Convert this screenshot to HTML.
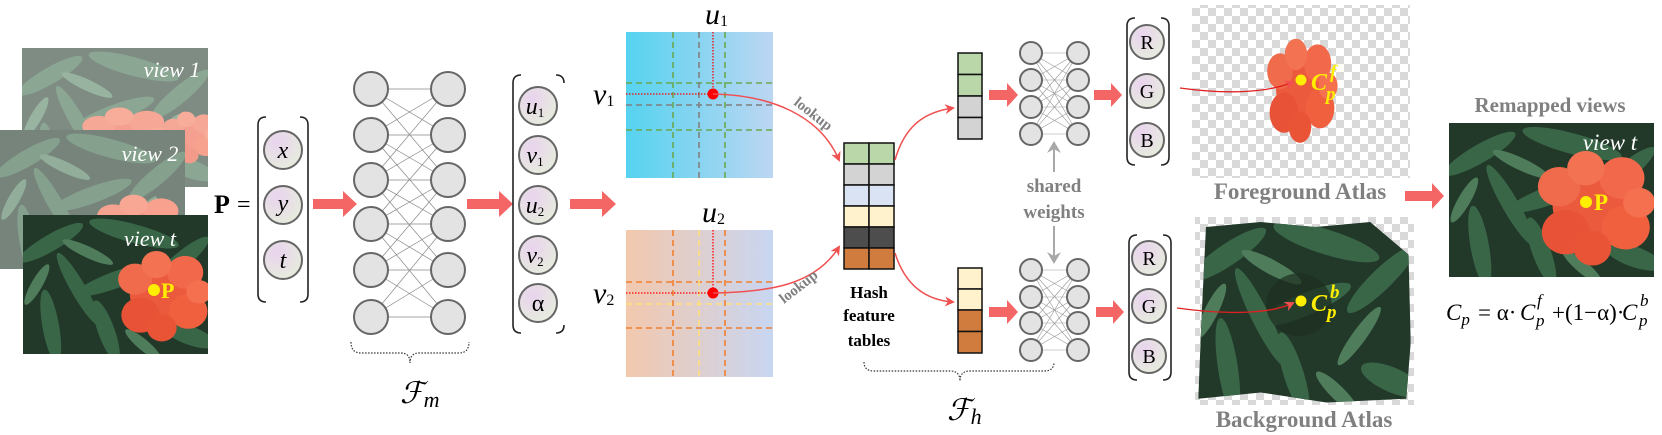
<!DOCTYPE html>
<html><head><meta charset="utf-8">
<style>
html,body{margin:0;padding:0;background:#fff;}
svg{display:block;}
text{font-family:"Liberation Serif",serif;}
.it{font-style:italic;}
.gl{fill:#808080;font-weight:bold;}
</style></head>
<body>
<svg width="1662" height="435" viewBox="0 0 1662 435" xmlns="http://www.w3.org/2000/svg">
<defs>
  <pattern id="chk" width="16" height="16" patternUnits="userSpaceOnUse">
    <rect width="16" height="16" fill="#ffffff"/>
    <rect width="8" height="8" fill="#d9d9d9"/>
    <rect x="8" y="8" width="8" height="8" fill="#d9d9d9"/>
  </pattern>
  <radialGradient id="cg" cx="0.35" cy="0.3" r="0.8">
    <stop offset="0" stop-color="#e9d3ee"/><stop offset="1" stop-color="#e6eedc"/>
  </radialGradient>
  <linearGradient id="g1" x1="0" x2="1"><stop offset="0" stop-color="#55d3f0"/><stop offset="1" stop-color="#bcd6f2"/></linearGradient>
  <linearGradient id="g2" x1="0" x2="1"><stop offset="0" stop-color="#f3c8ad"/><stop offset="1" stop-color="#c8d6f2"/></linearGradient>
  <marker id="ah" markerWidth="10" markerHeight="10" refX="8" refY="5" orient="auto" markerUnits="userSpaceOnUse">
    <path d="M0,0 L10,5 L0,10 L3,5 z" fill="#f05050"/>
  </marker>
  <marker id="ahg" markerWidth="12" markerHeight="14" refX="10" refY="7" orient="auto" markerUnits="userSpaceOnUse">
    <path d="M0,0 L12,7 L0,14 L4,7 z" fill="#a8a8a8"/>
  </marker>
  <g id="fol">
    <rect width="200" height="150" fill="#22392a"/>
    <g fill="#3a6648">
      <ellipse cx="30" cy="30" rx="40" ry="9" transform="rotate(-30 30 30)"/>
      <ellipse cx="120" cy="20" rx="50" ry="10" transform="rotate(15 120 20)"/>
      <ellipse cx="170" cy="50" rx="40" ry="9" transform="rotate(-40 170 50)"/>
      <ellipse cx="60" cy="80" rx="45" ry="8" transform="rotate(60 60 80)"/>
      <ellipse cx="100" cy="70" rx="45" ry="9" transform="rotate(-20 100 70)"/>
      <ellipse cx="30" cy="120" rx="40" ry="9" transform="rotate(80 30 120)"/>
      <ellipse cx="90" cy="125" rx="35" ry="9" transform="rotate(70 90 125)"/>
      <ellipse cx="180" cy="130" rx="30" ry="10" transform="rotate(20 180 130)"/>
    </g>
    <g fill="#4f7d5c">
      <ellipse cx="70" cy="40" rx="30" ry="6" transform="rotate(25 70 40)"/>
      <ellipse cx="150" cy="95" rx="30" ry="6" transform="rotate(-50 150 95)"/>
      <ellipse cx="15" cy="75" rx="25" ry="6" transform="rotate(-60 15 75)"/>
      <ellipse cx="130" cy="140" rx="25" ry="6" transform="rotate(40 130 140)"/>
    </g>
  </g>
  <g id="flw">
    <circle cx="0" cy="0" r="30" fill="#ec5a3e"/>
    <circle cx="-25" cy="-15" r="16" fill="#f06a4c"/>
    <circle cx="22" cy="-22" r="17" fill="#f2684a"/>
    <circle cx="-20" cy="22" r="18" fill="#e85236"/>
    <circle cx="25" cy="18" r="18" fill="#f0603f"/>
    <circle cx="0" cy="35" r="14" fill="#e95436"/>
    <circle cx="35" cy="-2" r="12" fill="#f4704f"/>
    <circle cx="-5" cy="-30" r="14" fill="#f27252"/>
  </g>
</defs>

<!-- views -->
<g>
  <svg x="22" y="48" width="186" height="139" viewBox="0 0 200 150" preserveAspectRatio="none"><use href="#fol"/><use href="#flw" transform="translate(110,95) scale(1.1,0.7)"/><use href="#flw" transform="translate(180,95) scale(0.7,0.6)"/></svg>
  <rect x="22" y="48" width="186" height="139" fill="#fff" opacity="0.42"/>
  <svg x="0" y="130" width="185" height="139" viewBox="0 0 200 150" preserveAspectRatio="none"><use href="#fol"/><use href="#flw" transform="translate(150,105) scale(1.1,0.8)"/></svg>
  <rect x="0" y="130" width="185" height="139" fill="#fff" opacity="0.38"/>
  <svg x="23" y="215" width="185" height="139" viewBox="0 0 200 150" preserveAspectRatio="none"><use href="#fol"/><use href="#flw" transform="translate(150,85) scale(1.15,1.05)"/></svg>
  <text x="172" y="77" font-size="22" class="it" fill="#fff" text-anchor="middle">view 1</text>
  <text x="150" y="161" font-size="22" class="it" fill="#fff" text-anchor="middle">view 2</text>
  <text x="150" y="246" font-size="22" class="it" fill="#fff" text-anchor="middle">view t</text>
  <circle cx="154" cy="290" r="6" fill="#ffee00"/>
  <text x="161" y="298" font-size="22" font-weight="bold" fill="#ffee00">P</text>
</g>

<!-- P = -->
<text x="214" y="213" font-size="26" font-weight="bold">P</text>
<text x="237" y="212" font-size="24">=</text>
<path d="M266,117 q-8,0 -8,8 v169 q0,8 8,8" fill="none" stroke="#222" stroke-width="1.6"/>
<path d="M300,117 q8,0 8,8 v169 q0,8 -8,8" fill="none" stroke="#222" stroke-width="1.6"/>
<g stroke="#666" stroke-width="2" fill="url(#cg)">
  <circle cx="283" cy="150" r="19"/><circle cx="283" cy="205" r="19"/><circle cx="283" cy="260" r="19"/>
</g>
<text x="283" y="158" font-size="24" class="it" text-anchor="middle">x</text>
<text x="283" y="211" font-size="24" class="it" text-anchor="middle">y</text>
<text x="283" y="268" font-size="24" class="it" text-anchor="middle">t</text>

<!-- thick arrows -->
<g fill="#f46565">
  <path d="M313,199 h30 v-8 l14,13 l-14,13 v-8 h-30 z"/>
  <path d="M467,199 h32 v-8 l14,13 l-14,13 v-8 h-32 z"/>
  <path d="M570,199 h32 v-8 l14,13 l-14,13 v-8 h-32 z"/>
  <path d="M989,90 h18 v-7 l11,12 l-11,12 v-7 h-18 z"/>
  <path d="M989,307 h18 v-7 l11,12 l-11,12 v-7 h-18 z"/>
  <path d="M1094,90 h17 v-7 l11,12 l-11,12 v-7 h-17 z"/>
  <path d="M1096,307 h17 v-7 l11,12 l-11,12 v-7 h-17 z"/>
  <path d="M1405,191 h27 v-8 l12,13 l-12,13 v-8 h-27 z"/>
</g>

<!-- NN Fm -->
<g stroke="#888" stroke-width="0.7">
  <path d="M371,89 L448,89 M371,89 L448,135 M371,89 L448,180 M371,135 L448,89 M371,135 L448,135 M371,135 L448,180 M371,135 L448,224 M371,180 L448,89 M371,180 L448,135 M371,180 L448,180 M371,180 L448,224 M371,180 L448,270 M371,224 L448,135 M371,224 L448,180 M371,224 L448,224 M371,224 L448,270 M371,224 L448,317 M371,270 L448,180 M371,270 L448,224 M371,270 L448,270 M371,270 L448,317 M371,317 L448,224 M371,317 L448,270 M371,317 L448,317"/>
</g>
<g stroke="#666" stroke-width="2" fill="#e3e3e3">
  <circle cx="371" cy="89" r="17"/><circle cx="371" cy="135" r="17"/><circle cx="371" cy="180" r="17"/><circle cx="371" cy="224" r="17"/><circle cx="371" cy="270" r="17"/><circle cx="371" cy="317" r="17"/>
  <circle cx="448" cy="89" r="17"/><circle cx="448" cy="135" r="17"/><circle cx="448" cy="180" r="17"/><circle cx="448" cy="224" r="17"/><circle cx="448" cy="270" r="17"/><circle cx="448" cy="317" r="17"/>
</g>
<path d="M351,342 q0,11 10,11 h40 q9,0 9,10 q0,-10 9,-10 h40 q10,0 10,-11" fill="none" stroke="#333" stroke-width="1.2" stroke-dasharray="1.5,1.5"/>
<text x="400" y="403" font-size="30" class="it">ℱ<tspan font-size="22" dy="4">m</tspan></text>

<!-- output vector -->
<path d="M521,75 q-8,0 -8,8 v242 q0,8 8,8" fill="none" stroke="#222" stroke-width="1.6"/>
<path d="M556,75 q8,0 8,8" fill="none" stroke="#222" stroke-width="1.6"/>
<path d="M556,333 q8,0 8,-8" fill="none" stroke="#222" stroke-width="1.6"/>
<g stroke="#666" stroke-width="2" fill="url(#cg)">
  <circle cx="538" cy="106" r="19"/><circle cx="538" cy="155" r="19"/><circle cx="538" cy="205" r="19"/><circle cx="538" cy="255" r="19"/><circle cx="538" cy="303" r="19"/>
</g>
<g font-size="24" class="it" text-anchor="middle">
  <text x="535" y="114">u<tspan font-size="13" font-style="normal" dy="3">1</tspan></text>
  <text x="535" y="163">v<tspan font-size="13" font-style="normal" dy="3">1</tspan></text>
  <text x="535" y="213">u<tspan font-size="13" font-style="normal" dy="3">2</tspan></text>
  <text x="535" y="263">v<tspan font-size="13" font-style="normal" dy="3">2</tspan></text>
  <text x="538" y="311" font-style="normal">α</text>
</g>

<!-- grids -->
<rect x="626" y="32" width="147" height="146" fill="url(#g1)"/>
<g stroke-width="1.6" stroke-dasharray="6,4" fill="none">
  <path d="M673,32 V178 M725,32 V178 M626,83 H773 M626,130 H773" stroke="#6aa84f"/>
  <path d="M699,32 V178 M626,105 H773" stroke="#7f7f7f"/>
</g>
<path d="M713,32 V94 M626,94 H713" stroke="#f00" stroke-width="1.3" stroke-dasharray="1.5,1.5"/>
<circle cx="713" cy="94" r="5.5" fill="#f00"/>
<rect x="626" y="230" width="147" height="147" fill="url(#g2)"/>
<g stroke-width="1.6" stroke-dasharray="6,4" fill="none">
  <path d="M673,230 V377 M725,230 V377 M626,282 H773 M626,328 H773" stroke="#f08030"/>
  <path d="M699,230 V377 M626,304 H773" stroke="#ffe07a"/>
</g>
<path d="M713,230 V293 M626,293 H713" stroke="#f00" stroke-width="1.3" stroke-dasharray="1.5,1.5"/>
<circle cx="713" cy="293" r="5.5" fill="#f00"/>
<g font-size="30" class="it">
  <text x="705" y="24">u<tspan font-size="16" font-style="normal" dy="2">1</tspan></text>
  <text x="593" y="104">v<tspan font-size="16" font-style="normal" dy="2">1</tspan></text>
  <text x="702" y="222">u<tspan font-size="16" font-style="normal" dy="2">2</tspan></text>
  <text x="593" y="303">v<tspan font-size="16" font-style="normal" dy="2">2</tspan></text>
</g>
<path d="M713,94 C770,95 820,115 839,160" fill="none" stroke="#f05050" stroke-width="1.5" marker-end="url(#ah)"/>
<path d="M713,293 C770,292 815,285 839,247" fill="none" stroke="#f05050" stroke-width="1.5" marker-end="url(#ah)"/>
<text x="0" y="0" font-size="15" class="gl" transform="translate(793,104) rotate(38)">lookup</text>
<text x="0" y="0" font-size="15" class="gl" transform="translate(784,304) rotate(-38)">lookup</text>

<!-- hash table -->
<g stroke="#111" stroke-width="1.5">
  <rect x="844" y="143" width="25" height="21" fill="#b9d7a8"/><rect x="869" y="143" width="25" height="21" fill="#b9d7a8"/>
  <rect x="844" y="164" width="25" height="21" fill="#d3d3d3"/><rect x="869" y="164" width="25" height="21" fill="#d3d3d3"/>
  <rect x="844" y="185" width="25" height="21" fill="#dae3f3"/><rect x="869" y="185" width="25" height="21" fill="#dae3f3"/>
  <rect x="844" y="206" width="25" height="21" fill="#fff2cc"/><rect x="869" y="206" width="25" height="21" fill="#fff2cc"/>
  <rect x="844" y="227" width="25" height="21" fill="#4d4d4d"/><rect x="869" y="227" width="25" height="21" fill="#4d4d4d"/>
  <rect x="844" y="248" width="25" height="21" fill="#d07c3f"/><rect x="869" y="248" width="25" height="21" fill="#d07c3f"/>
</g>
<g font-size="17" font-weight="bold" text-anchor="middle">
  <text x="869" y="298">Hash</text><text x="869" y="321">feature</text><text x="869" y="346">tables</text>
</g>
<path d="M895,160 C905,125 925,112 953,108" fill="none" stroke="#f05050" stroke-width="1.5" marker-end="url(#ah)"/>
<path d="M895,253 C905,285 925,300 953,302" fill="none" stroke="#f05050" stroke-width="1.5" marker-end="url(#ah)"/>

<!-- small vectors -->
<g stroke="#111" stroke-width="1.5">
  <rect x="958" y="53" width="24" height="21.5" fill="#b9d7a8"/><rect x="958" y="74.5" width="24" height="21.5" fill="#b9d7a8"/>
  <rect x="958" y="96" width="24" height="21.5" fill="#d3d3d3"/><rect x="958" y="117.5" width="24" height="21.5" fill="#d3d3d3"/>
  <rect x="958" y="268" width="24" height="21" fill="#fff2cc"/><rect x="958" y="289" width="24" height="21" fill="#fff2cc"/>
  <rect x="958" y="310" width="24" height="21.5" fill="#d07c3f"/><rect x="958" y="331.5" width="24" height="21.5" fill="#d07c3f"/>
</g>

<!-- small NNs -->
<g stroke="#999" stroke-width="0.6">
  <path d="M1031,53 L1078,53 M1031,53 L1078,80 M1031,53 L1078,107 M1031,53 L1078,134 M1031,80 L1078,53 M1031,80 L1078,80 M1031,80 L1078,107 M1031,80 L1078,134 M1031,107 L1078,53 M1031,107 L1078,80 M1031,107 L1078,107 M1031,107 L1078,134 M1031,134 L1078,53 M1031,134 L1078,80 M1031,134 L1078,107 M1031,134 L1078,134"/>
  <path d="M1031,270 L1078,270 M1031,270 L1078,297 M1031,270 L1078,323 M1031,270 L1078,350 M1031,297 L1078,270 M1031,297 L1078,297 M1031,297 L1078,323 M1031,297 L1078,350 M1031,323 L1078,270 M1031,323 L1078,297 M1031,323 L1078,323 M1031,323 L1078,350 M1031,350 L1078,270 M1031,350 L1078,297 M1031,350 L1078,323 M1031,350 L1078,350"/>
</g>
<g stroke="#666" stroke-width="2" fill="#e3e3e3">
  <circle cx="1031" cy="53" r="11"/><circle cx="1031" cy="80" r="11"/><circle cx="1031" cy="107" r="11"/><circle cx="1031" cy="134" r="11"/>
  <circle cx="1078" cy="53" r="11"/><circle cx="1078" cy="80" r="11"/><circle cx="1078" cy="107" r="11"/><circle cx="1078" cy="134" r="11"/>
  <circle cx="1031" cy="270" r="11"/><circle cx="1031" cy="297" r="11"/><circle cx="1031" cy="323" r="11"/><circle cx="1031" cy="350" r="11"/>
  <circle cx="1078" cy="270" r="11"/><circle cx="1078" cy="297" r="11"/><circle cx="1078" cy="323" r="11"/><circle cx="1078" cy="350" r="11"/>
</g>
<text x="1054" y="192" font-size="19" class="gl" text-anchor="middle">shared</text>
<text x="1054" y="218" font-size="19" class="gl" text-anchor="middle">weights</text>
<path d="M1054,172 V143" stroke="#a8a8a8" stroke-width="2" marker-end="url(#ahg)"/>
<path d="M1054,226 V262" stroke="#a8a8a8" stroke-width="2" marker-end="url(#ahg)"/>
<path d="M864,362 q0,9 10,9 h76 q10,0 10,10 q0,-10 10,-10 h74 q10,0 10,-9" fill="none" stroke="#333" stroke-width="1.2" stroke-dasharray="1.5,1.5"/>
<text x="947" y="420" font-size="30" class="it">ℱ<tspan font-size="22" dy="4">h</tspan></text>

<!-- RGB -->
<path d="M1135,18 q-8,0 -8,8 v131 q0,8 8,8 M1161,18 q8,0 8,8 v131 q0,8 -8,8" fill="none" stroke="#222" stroke-width="1.6"/>
<path d="M1137,235 q-8,0 -8,8 v129 q0,8 8,8 M1163,235 q8,0 8,8 v129 q0,8 -8,8" fill="none" stroke="#222" stroke-width="1.6"/>
<g stroke="#666" stroke-width="2" fill="url(#cg)">
  <circle cx="1147" cy="42" r="17"/><circle cx="1147" cy="91" r="17"/><circle cx="1147" cy="140" r="17"/>
  <circle cx="1149" cy="258" r="17"/><circle cx="1149" cy="306" r="17"/><circle cx="1149" cy="356" r="17"/>
</g>
<g font-size="20" text-anchor="middle">
  <text x="1147" y="49">R</text><text x="1147" y="98">G</text><text x="1147" y="147">B</text>
  <text x="1149" y="265">R</text><text x="1149" y="313">G</text><text x="1149" y="363">B</text>
</g>

<!-- atlases -->
<rect x="1192" y="5" width="218" height="173" fill="url(#chk)"/>
<use href="#flw" transform="translate(1300,88) scale(0.8,1.12)"/>
<rect x="1195" y="217" width="219" height="188" fill="url(#chk)"/>
<svg x="1195" y="217" width="219" height="188" viewBox="0 0 200 150" preserveAspectRatio="none">
  <clipPath id="bgc"><path d="M10,8 L60,4 L110,8 L160,4 L195,30 L197,100 L193,145 L120,148 L60,140 L3,145 L6,80 z"/></clipPath>
  <g clip-path="url(#bgc)"><use href="#fol"/><ellipse cx="95" cy="70" rx="30" ry="25" fill="#1c2e1f" opacity="0.7"/></g>
</svg>
<path d="M1180,88 C1230,95 1270,92 1293,82" fill="none" stroke="#e02020" stroke-width="1.3" marker-end="url(#ah)"/>
<path d="M1177,308 C1230,315 1270,314 1293,303" fill="none" stroke="#e02020" stroke-width="1.3" marker-end="url(#ah)"/>
<circle cx="1301" cy="80" r="5.5" fill="#ffee00"/>
<text x="1311" y="90" font-size="24" class="it" font-weight="bold" fill="#ffee00">C</text>
<text x="1330" y="78" font-size="19" class="it" font-weight="bold" fill="#ffee00">f</text>
<text x="1326" y="100" font-size="19" class="it" font-weight="bold" fill="#ffee00">p</text>
<circle cx="1301" cy="301" r="5.5" fill="#ffee00"/>
<text x="1311" y="311" font-size="24" class="it" font-weight="bold" fill="#ffee00">C</text>
<text x="1330" y="298" font-size="19" class="it" font-weight="bold" fill="#ffee00">b</text>
<text x="1327" y="318" font-size="19" class="it" font-weight="bold" fill="#ffee00">p</text>
<text x="1300" y="199" font-size="23" class="gl" text-anchor="middle">Foreground Atlas</text>
<text x="1304" y="427" font-size="23" class="gl" text-anchor="middle">Background Atlas</text>

<!-- remapped -->
<text x="1550" y="112" font-size="21" class="gl" text-anchor="middle">Remapped views</text>
<svg x="1449" y="123" width="205" height="154" viewBox="0 0 200 150" preserveAspectRatio="none"><use href="#fol"/><use href="#flw" transform="translate(140,80) scale(1.3,1.2)"/></svg>
<text x="1610" y="150" font-size="23" class="it" fill="#fff" text-anchor="middle">view t</text>
<circle cx="1586" cy="202" r="6" fill="#ffee00"/>
<text x="1594" y="210" font-size="23" font-weight="bold" fill="#ffee00">P</text>

<!-- formula -->
<g font-size="23">
  <text x="1446" y="320" class="it">C<tspan font-size="17" dy="5">p</tspan></text>
  <text x="1478" y="320">= α·</text>
  <text x="1520" y="320" class="it">C</text>
  <text x="1537" y="306" font-size="17" class="it">f</text>
  <text x="1536" y="326" font-size="17" class="it">p</text>
  <text x="1552" y="320">+(1−α)·</text>
  <text x="1622" y="320" class="it">C</text>
  <text x="1640" y="306" font-size="17" class="it">b</text>
  <text x="1639" y="326" font-size="17" class="it">p</text>
</g>
</svg>
</body></html>
